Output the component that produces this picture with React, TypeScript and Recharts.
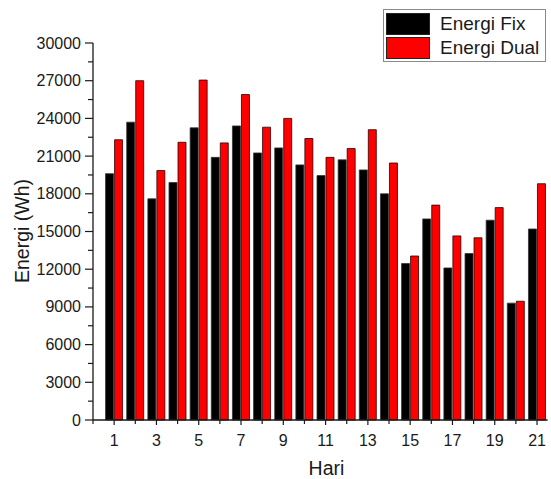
import { BarChart, Bar, XAxis, YAxis, Legend } from "recharts";

const days = [1, 2, 3, 4, 5, 6, 7, 8, 9, 10, 11, 12, 13, 14, 15, 16, 17, 18, 19, 20, 21];
const energiFix = [19600, 23700, 17600, 18900, 23250, 20900, 23400, 21250, 21650, 20300, 19450, 20700, 19900, 18000, 12450, 16000, 12100, 13250, 15900, 9300, 15200];
const energiDual = [22300, 27000, 19850, 22100, 27050, 22050, 25900, 23300, 24000, 22400, 20900, 21600, 23100, 20450, 13050, 17100, 14650, 14500, 16900, 9450, 18800];
const seriesNames = ["Energi Fix", "Energi Dual"];
const xTicks = [0, 1, 2, 3, 4, 5, 6, 7, 8, 9, 10, 11, 12, 13, 14, 15, 16, 17, 18, 19, 20, 21];
const yTicks = [0, 1500, 3000, 4500, 6000, 7500, 9000, 10500, 12000, 13500, 15000, 16500, 18000, 19500, 21000, 22500, 24000, 25500, 27000, 28500, 30000];

const data = days.map((d, i) => ({ day: d, fix: energiFix[i], dual: energiDual[i] }));

const font = '"Liberation Sans", Arial, sans-serif';
const ink = "#1a1a1a";

const XTick = ({ x, y, payload }) => {
    const major = payload.value % 2 === 1;
    return (
        <g>
            <line x1={x} y1={y} x2={x} y2={y + (major ? 5 : 4)} stroke={ink} strokeWidth={1.2} />
            {major && (
                <text x={x} y={y + 26} textAnchor="middle" fontSize={16} fontFamily={font} fill={ink}>
                    {payload.value}
                </text>
            )}
        </g>
    );
};

const YTick = ({ x, y, payload }) => {
    const major = payload.value % 3000 === 0;
    return (
        <g>
            <line x1={x - (major ? 8 : 5)} y1={y} x2={x} y2={y} stroke={ink} strokeWidth={1.2} />
            {major && (
                <text x={x - 12} y={y + 5.5} textAnchor="end" fontSize={16} fontFamily={font} fill={ink}>
                    {payload.value}
                </text>
            )}
        </g>
    );
};

const LegendBox = ({ payload }) => {
    const items = [...payload].sort((a, b) => seriesNames.indexOf(a.value) - seriesNames.indexOf(b.value));
    return (
        <div style={{ border: "1px solid #8a8a8a", background: "#fff", padding: "2px 2px 1px 2px", fontFamily: font, fontSize: 19, color: ink }}>
            {items.map((p) => (
                <div key={p.value} style={{ display: "flex", alignItems: "center", height: 24 }}>
                    <span style={{ width: 42, height: 20, background: p.color, border: "1px solid #222", display: "inline-block" }} />
                    <span style={{ marginLeft: 10, lineHeight: "24px" }}>{p.value}</span>
                </div>
            ))}
        </div>
    );
};

export default function App() {
    return (
        <div style={{ position: "absolute", left: 0, top: 0, background: "#fff" }}>
            <BarChart
                width={551}
                height={479}
                data={data}
                margin={{ top: 43, right: 3.4, bottom: 0, left: 0 }}
                barGap={1}
                barSize={8}
            >
                <XAxis
                    dataKey="day"
                    type="number"
                    domain={[0, 21.5]}
                    ticks={xTicks}
                    interval={0}
                    height={59}
                    tickSize={0}
                    tickMargin={0}
                    tickLine={false}
                    axisLine={{ stroke: ink, strokeWidth: 1.3 }}
                    tick={XTick}
                    allowDataOverflow
                    label={{
                        content: () => (
                            <text x={326.5} y={475} textAnchor="middle" fontSize={19.5} fontFamily={font} fill={ink}>
                                Hari
                            </text>
                        ),
                    }}
                />
                <YAxis
                    type="number"
                    domain={[0, 30000]}
                    ticks={yTicks}
                    interval={0}
                    width={93}
                    tickSize={0}
                    tickMargin={0}
                    tickLine={false}
                    axisLine={{ stroke: ink, strokeWidth: 1.3 }}
                    tick={YTick}
                    label={{
                        content: () => (
                            <text
                                x={29}
                                y={231}
                                textAnchor="middle"
                                fontSize={19.5}
                                fontFamily={font}
                                fill={ink}
                                transform="rotate(-90 29 231)"
                            >
                                Energi (Wh)
                            </text>
                        ),
                    }}
                />
                <Legend
                    layout="vertical"
                    align="center"
                    verticalAlign="middle"
                    wrapperStyle={{ top: 9, left: 383, width: 163 }}
                    content={LegendBox}
                />
                <Bar dataKey="fix" name="Energi Fix" fill="#000000" stroke="#333" strokeWidth={0.8} isAnimationActive={false} />
                <Bar dataKey="dual" name="Energi Dual" fill="#ff0000" stroke="#2a0000" strokeWidth={0.8} isAnimationActive={false} />
            </BarChart>
        </div>
    );
}
